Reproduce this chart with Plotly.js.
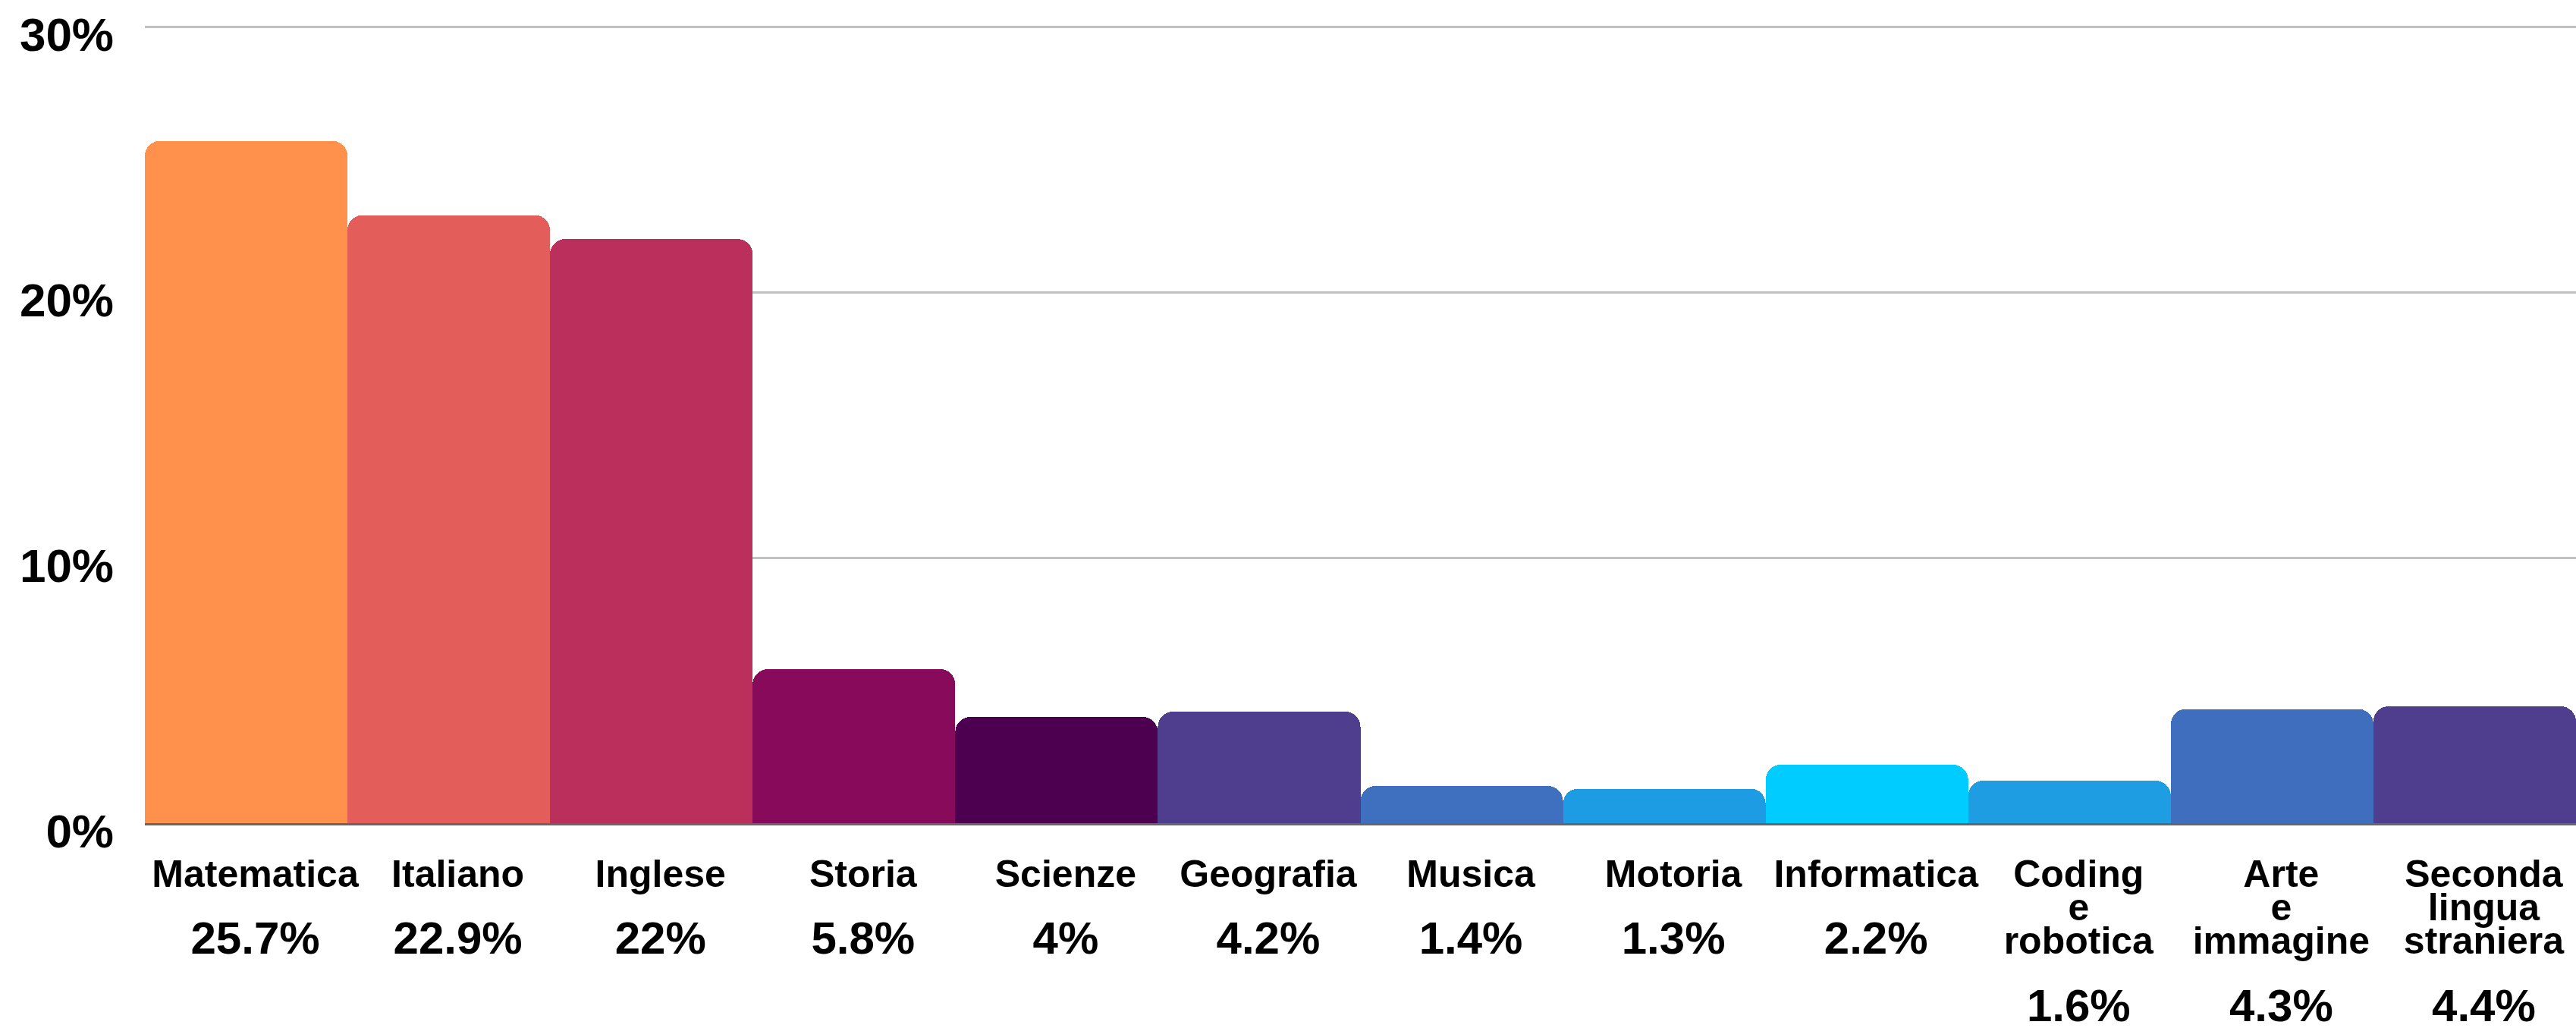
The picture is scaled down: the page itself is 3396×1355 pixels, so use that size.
<!DOCTYPE html>
<html><head><meta charset="utf-8">
<script src="https://cdn.plot.ly/plotly-3.0.1.min.js"></script>
<style>html,body{margin:0;padding:0;background:#fff;} #chart{width:3396px;height:1355px;}</style>
</head><body><div id="chart"></div>
<script>
const categories = ["Matematica","Italiano","Inglese","Storia","Scienze","Geografia","Musica","Motoria","Informatica","Coding<br>e<br>robotica","Arte<br>e<br>immagine","Seconda<br>lingua<br>straniera"];
const values = [25.7, 22.9, 22, 5.8, 4, 4.2, 1.4, 1.3, 2.2, 1.6, 4.3, 4.4];
const valueLabels = ["25.7%","22.9%","22%","5.8%","4%","4.2%","1.4%","1.3%","2.2%","1.6%","4.3%","4.4%"];
const colors = ["#FF914D","#E35D5A","#BA2F5B","#880A5A","#4D004F","#4F3E8E","#3F6FBF","#1E9CE3","#00CCFF","#1F9DE2","#3F6EBE","#4E3E8D"];
const yTickValues = [0, 10, 20, 30];
const yTickLabels = ["0%","10%","20%","30%"];

const keys = categories.map((c, i) => "c" + i);
const tickText = categories.map((c, i) => {
  const nameLines = c.split("<br>").map(l => '<span style="font-size:50px">' + l + '</span>').join("<br>");
  return nameLines + "<br><br>" + '<span style="font-size:60px">' + valueLabels[i] + '</span>';
});

const trace = {
  type: "bar",
  x: keys,
  y: values,
  marker: { color: colors, cornerradius: 20, line: { width: 0 } },
  hoverinfo: "skip"
};

const layout = {
  width: 3396,
  height: 1355,
  margin: { l: 191, r: 0, t: 33, b: 270, pad: 0 },
  paper_bgcolor: "#ffffff",
  plot_bgcolor: "#ffffff",
  bargap: 0,
  showlegend: false,
  font: { family: "Liberation Sans, Arial, sans-serif", color: "#000000" },
  xaxis: {
    type: "category",
    tickvals: keys,
    ticktext: tickText,
    tickfont: { family: "Liberation Sans, Arial, sans-serif", size: 34, weight: "bold", color: "#000000" },
    ticklabelstandoff: 40,
    ticklabelshift: 12,
    ticklabeloverflow: "allow",
    ticks: "",
    showgrid: false,
    zeroline: false,
    showline: true,
    linecolor: "#666666",
    linewidth: 3,
    layer: "above traces",
    fixedrange: true
  },
  yaxis: {
    range: [0, 30.06],
    autorange: false,
    tickvals: yTickValues,
    ticktext: yTickLabels,
    tickfont: { family: "Liberation Sans, Arial, sans-serif", size: 62, weight: "bold", color: "#000000" },
    ticklabelstandoff: 40,
    ticklabelshift: 10,
    ticklabeloverflow: "allow",
    ticks: "",
    showgrid: true,
    gridcolor: "#c0c0c0",
    gridwidth: 3,
    zeroline: false,
    showline: false,
    fixedrange: true
  }
};

Plotly.newPlot("chart", [trace], layout, { staticPlot: true, displayModeBar: false });
</script>
</body></html>
